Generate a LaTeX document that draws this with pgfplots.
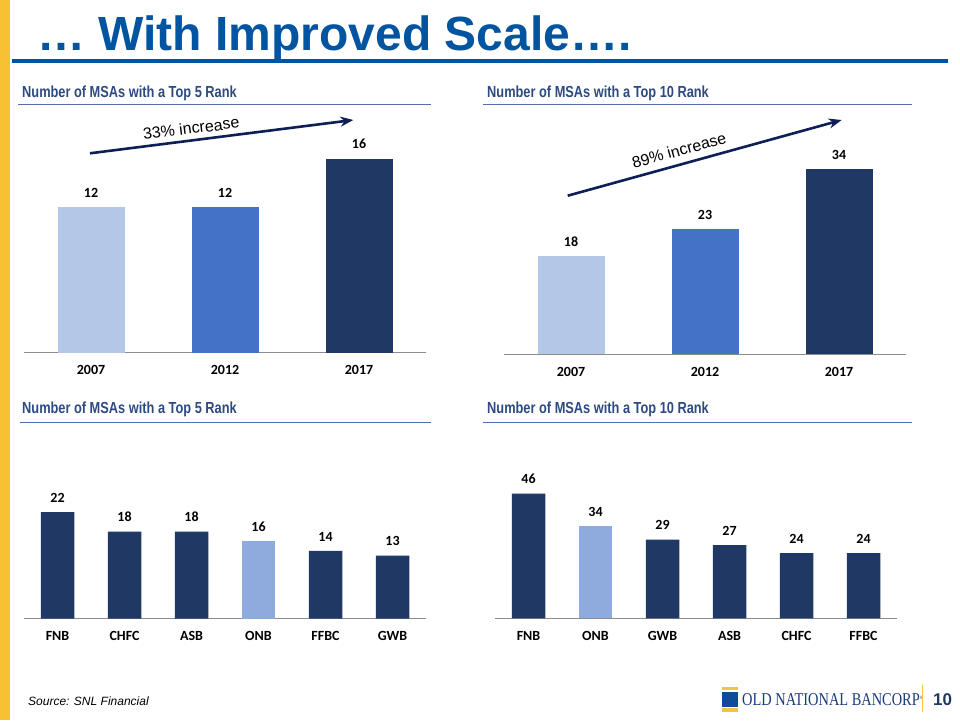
\documentclass[border=0pt]{standalone}
\usepackage{fontspec}
\setmainfont{Liberation Sans}
\newfontfamily\hdrfont[FakeStretch=0.8]{Liberation Sans}
\newfontfamily\calfont{Carlito}
\newfontfamily\logofont[FakeStretch=0.8]{Liberation Serif}
\usepackage{pgfplots}
\pgfplotsset{compat=1.18}
\usetikzlibrary{arrows.meta}

\definecolor{yellowbar}{HTML}{F8C133}
\definecolor{titleblue}{HTML}{0054A0}
\definecolor{hdrblue}{HTML}{2E4A82}
\definecolor{hdrline}{HTML}{5070AA}
\definecolor{c07}{HTML}{B4C7E7}
\definecolor{c12}{HTML}{4472C4}
\definecolor{cdark}{HTML}{203864}
\definecolor{clight}{HTML}{8FAADC}
\definecolor{arrowc}{HTML}{0E1F57}
\definecolor{axisgray}{HTML}{8C8C8C}
\definecolor{logoblue}{HTML}{0D4C9A}
\definecolor{logoyellow}{HTML}{F5C342}
\definecolor{logonavy}{HTML}{1A3A7A}

\newcommand{\lblfont}{\calfont\bfseries\fontsize{14}{15}\selectfont}
\newcommand{\hdr}[1]{{\hdrfont\bfseries\fontsize{16}{18}\selectfont #1}}

\pgfplotsset{
  slidebars/.style={
    scale only axis, anchor=south west, ymin=0,
    ybar, clip=false,
    axis x line=bottom, axis y line=none,
    x axis line style={-, draw=axisgray, line width=1.2pt},
    ytick=\empty, major tick length=0pt,
    /pgf/number format/assume math mode=true,
    xticklabel style={font=\lblfont, text=black, inner sep=0pt, anchor=base, yshift=-22pt},
    nodes near coords,
    every node near coord/.append style={font=\lblfont, text=black, inner sep=0pt, yshift=9.5pt},
  },
}

\begin{document}
\begin{tikzpicture}
\useasboundingbox (0,0) rectangle (960pt,-720pt);
\fill[white] (0,0) rectangle (960pt,-720pt);

\begin{scope}[x=1pt,y=-1pt]
% frame of the slide
\fill[yellowbar] (0,0) rectangle (9.5,720);
\node[anchor=base west, inner sep=0, text=titleblue] at (37,50)
  {\bfseries\fontsize{48}{52}\selectfont … With Improved Scale….};
\fill[titleblue] (12,59) rectangle (948,63);

% section headers
\node[anchor=base west, inner sep=0, text=hdrblue] at (22,97.5) {\hdr{Number of MSAs with a Top 5 Rank}};
\node[anchor=base west, inner sep=0, text=hdrblue] at (487,97.5) {\hdr{Number of MSAs with a Top 10 Rank}};
\node[anchor=base west, inner sep=0, text=hdrblue] at (22,413.3) {\hdr{Number of MSAs with a Top 5 Rank}};
\node[anchor=base west, inner sep=0, text=hdrblue] at (487,413.3) {\hdr{Number of MSAs with a Top 10 Rank}};
\draw[hdrline, line width=1.5pt] (18,104.5) -- (431,104.5);
\draw[hdrline, line width=1.5pt] (483,104.5) -- (912,104.5);
\draw[hdrline, line width=1.5pt] (20,422.3) -- (431,422.3);
\draw[hdrline, line width=1.5pt] (483,422.3) -- (912,422.3);

% footer
\node[anchor=base west, inner sep=0] at (28,705) {\itshape\fontsize{12}{14}\selectfont Source: SNL Financial};
\fill[logoyellow] (721.7,686.7) rectangle (738.3,690);
\fill[logoblue] (721.7,691.7) rectangle (738.3,706.7);
\fill[logoyellow] (721.7,708.3) rectangle (738.3,711.7);
\node[anchor=base west, inner sep=0, text=logonavy] at (742,705)
  {\logofont\fontsize{18}{20}\selectfont OLD NATIONAL BANCORP\raisebox{6pt}{\fontsize{5}{5}\selectfont ®}};
\draw[logoyellow, line width=1.5pt] (922.7,685) -- (922.7,711.7);
\node[anchor=base west, inner sep=0, text=cdark] at (933,705) {\bfseries\fontsize{17}{18}\selectfont 10};

% growth arrows
\draw[arrowc, line width=2.6pt, -{Stealth[length=13pt,width=10pt]}] (90,153.3) -- (353.3,120)
  node[pos=0.39, sloped, above, text=black, inner sep=5pt] {\fontsize{16}{18}\selectfont 33\% increase};
\draw[arrowc, line width=2.6pt, -{Stealth[length=13pt,width=10pt]}] (567.7,195.7) -- (841.7,120)
  node[pos=0.42, sloped, above, text=black, inner sep=7pt] {\fontsize{16}{18}\selectfont 89\% increase};
\end{scope}

% top left: Top 5, ONB by year
\begin{axis}[slidebars, at={(24pt,-352.7pt)}, width=402pt, height=242.4pt,
  xmin=-0.5, xmax=2.5, ymax=20, bar width=67pt,
  xtick={0,1,2}, xticklabels={2007,2012,2017}]
\addplot[fill=c07, draw=none, bar shift=0pt] coordinates {(0,12)};
\addplot[fill=c12, draw=none, bar shift=0pt] coordinates {(1,12)};
\addplot[fill=cdark, draw=none, bar shift=0pt] coordinates {(2,16)};
\end{axis}

% top right: Top 10, ONB by year
\begin{axis}[slidebars, at={(504pt,-354.3pt)}, width=402pt, height=218pt,
  xmin=-0.5, xmax=2.5, ymax=40, bar width=67pt,
  xtick={0,1,2}, xticklabels={2007,2012,2017}]
\addplot[fill=c07, draw=none, bar shift=0pt] coordinates {(0,18)};
\addplot[fill=c12, draw=none, bar shift=0pt] coordinates {(1,23)};
\addplot[fill=cdark, draw=none, bar shift=0pt] coordinates {(2,34)};
\end{axis}

% bottom left: Top 5 by bank
\begin{axis}[slidebars, at={(24pt,-618.7pt)}, width=402pt, height=121.1pt,
  xmin=-0.5, xmax=5.5, ymax=25, bar width=33.5pt,
  xtick={0,1,2,3,4,5}, xticklabels={FNB,CHFC,ASB,ONB,FFBC,GWB}]
\addplot[fill=cdark, draw=none, bar shift=0pt] coordinates {(0,22) (1,18) (2,18) (4,14) (5,13)};
\addplot[fill=clight, draw=none, bar shift=0pt] coordinates {(3,16)};
\end{axis}

% bottom right: Top 10 by bank
\begin{axis}[slidebars, at={(495pt,-618.3pt)}, width=402pt, height=135.65pt,
  xmin=-0.5, xmax=5.5, ymax=50, bar width=33.5pt,
  xtick={0,1,2,3,4,5}, xticklabels={FNB,ONB,GWB,ASB,CHFC,FFBC}]
\addplot[fill=cdark, draw=none, bar shift=0pt] coordinates {(0,46) (2,29) (3,27) (4,24) (5,24)};
\addplot[fill=clight, draw=none, bar shift=0pt] coordinates {(1,34)};
\end{axis}
\end{tikzpicture}
\end{document}
